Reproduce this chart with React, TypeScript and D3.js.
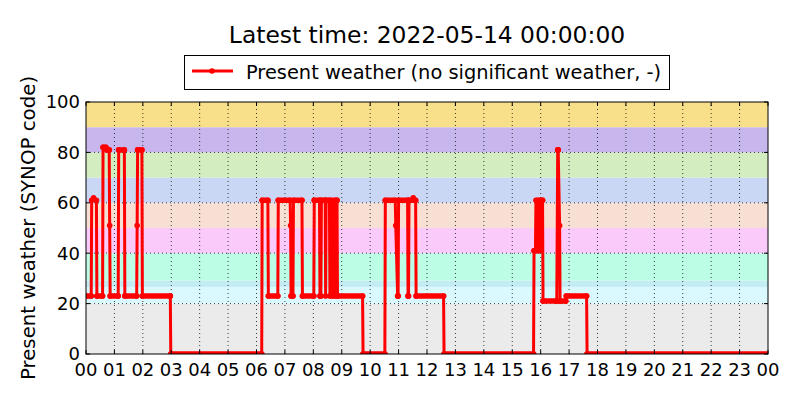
import React, { useEffect, useRef } from 'react';
import * as d3 from 'd3';

// present weather observations, [time of day, SYNOP code]
const presentWeather: [string, number][] = [
  ['00:00', 23], ['00:11', 23], ['00:12', 61], ['00:16', 62], ['00:22', 61], ['00:23', 23],
  ['00:35', 23], ['00:36', 82], ['00:42', 82], ['00:44', 81], ['00:49', 81], ['00:50', 51],
  ['00:51', 23], ['01:08', 23], ['01:09', 81], ['01:21', 81], ['01:22', 23], ['01:47', 23],
  ['01:48', 51], ['01:49', 81], ['01:58', 81], ['01:59', 23], ['02:58', 23], ['02:59', 0],
  ['06:11', 0], ['06:12', 61], ['06:24', 61], ['06:25', 23], ['06:45', 23], ['06:46', 61],
  ['07:11', 61], ['07:12', 51], ['07:13', 23], ['07:17', 23], ['07:18', 61], ['07:36', 61],
  ['07:37', 23], ['08:01', 23], ['08:02', 61], ['08:13', 61], ['08:14', 23], ['08:16', 23],
  ['08:17', 61], ['08:25', 61], ['08:26', 23], ['08:27', 61], ['08:34', 61], ['08:35', 23],
  ['08:37', 61], ['08:39', 23], ['08:41', 61], ['08:43', 23], ['08:45', 61], ['08:47', 23],
  ['08:48', 61], ['08:50', 61], ['08:51', 23], ['09:44', 23], ['09:45', 0], ['10:31', 0],
  ['10:32', 61], ['10:53', 61], ['10:54', 51], ['10:58', 23], ['10:59', 23], ['11:00', 61],
  ['11:19', 61], ['11:20', 23], ['11:21', 23], ['11:22', 61], ['11:30', 61], ['11:31', 62],
  ['11:33', 61], ['11:36', 61], ['11:37', 23], ['12:35', 23], ['12:36', 0], ['15:45', 0],
  ['15:46', 41], ['15:49', 41], ['15:50', 61], ['15:52', 41], ['15:53', 61], ['15:55', 41],
  ['15:56', 61], ['15:58', 41], ['15:59', 61], ['16:04', 61], ['16:05', 21], ['16:34', 21],
  ['16:36', 81], ['16:37', 81], ['16:40', 51], ['16:41', 21], ['16:53', 21], ['16:54', 23],
  ['17:37', 23], ['17:38', 0], ['24:00', 0],
];

// SYNOP code group shading
const bandFrom = [0, 20, 26.6, 29.2, 40, 50, 60, 70, 80, 90];
const bandTo = [20, 26.6, 29.2, 40, 50, 60, 70, 80, 90, 100];
const bandColors = ['#ebebeb', '#d9f9fe', '#c4edf3', '#bbfde5', '#facbfa', '#f8dfd4', '#c9d7f5', '#d3ecc0', '#c8b7ec', '#f8df8a'];

const hourLabels = ['00', '01', '02', '03', '04', '05', '06', '07', '08', '09', '10', '11', '12',
  '13', '14', '15', '16', '17', '18', '19', '20', '21', '22', '23', '00'];
const yTicks = [0, 20, 40, 60, 80, 100];

const title = 'Latest time: 2022-05-14 00:00:00';
const legendLabel = 'Present weather (no significant weather, -)';
const yLabel = 'Present weather (SYNOP code)';

const toMinutes = (s: string) => {
  const [h, m] = s.split(':').map(Number);
  return h * 60 + m;
};

const App: React.FC = () => {
  const svgRef = useRef<SVGSVGElement>(null);

  useEffect(() => {
    if (!svgRef.current) return;
    const width = 800;
    const height = 400;
    const margin = { top: 102, right: 32, bottom: 46, left: 86 };
    const font = 'DejaVu Sans, sans-serif';

    const svg = d3.select(svgRef.current);
    svg.selectAll('*').remove();

    svg.append('rect').attr('width', width).attr('height', height).attr('fill', '#ffffff');

    const x = d3.scaleLinear().domain([0, 1440]).range([margin.left, width - margin.right]);
    const y = d3.scaleLinear().domain([0, 100]).range([height - margin.bottom, margin.top]);
    const [x0, x1] = x.range();
    const [y0, y1] = y.range();

    svg.append('clipPath').attr('id', 'plot-clip')
      .append('rect').attr('x', x0).attr('y', y1).attr('width', x1 - x0).attr('height', y0 - y1);

    // bands
    svg.append('g').selectAll('rect')
      .data(bandColors)
      .enter().append('rect')
      .attr('x', x0)
      .attr('width', x1 - x0)
      .attr('y', (_, i) => y(bandTo[i]))
      .attr('height', (_, i) => y(bandFrom[i]) - y(bandTo[i]))
      .attr('fill', d => d);

    // grid
    const xTickVals = hourLabels.map((_, i) => i * 60);
    const grid = svg.append('g')
      .attr('stroke', '#000')
      .attr('stroke-width', 1)
      .attr('stroke-dasharray', '1,3')
      .attr('opacity', 0.75);
    grid.selectAll('.gx').data(xTickVals.slice(1, -1)).enter().append('line')
      .attr('x1', d => x(d)).attr('x2', d => x(d)).attr('y1', y0).attr('y2', y1);
    grid.selectAll('.gy').data(yTicks.slice(1, -1)).enter().append('line')
      .attr('y1', d => y(d)).attr('y2', d => y(d)).attr('x1', x0).attr('x2', x1);

    // data
    const pts = presentWeather.map(([t, v]) => ({ t: toMinutes(t), v }));
    const plot = svg.append('g').attr('clip-path', 'url(#plot-clip)');
    const line = d3.line<{ t: number; v: number }>().x(d => x(d.t)).y(d => y(d.v));

    plot.append('path')
      .attr('d', line(pts) as string)
      .attr('fill', 'none')
      .attr('stroke', '#ff0000')
      .attr('stroke-width', 3)
      .attr('stroke-linejoin', 'round');

    // dense one-minute markers along steady periods
    const holds = d3.pairs(pts).filter(([a, b]) => a.v === b.v);
    plot.selectAll('.hold').data(holds).enter().append('line')
      .attr('x1', d => x(d[0].t)).attr('x2', d => x(d[1].t))
      .attr('y1', d => y(d[0].v)).attr('y2', d => y(d[1].v))
      .attr('stroke', '#ff0000')
      .attr('stroke-width', 5.5)
      .attr('stroke-linecap', 'round');

    plot.selectAll('circle').data(pts).enter().append('circle')
      .attr('cx', d => x(d.t)).attr('cy', d => y(d.v)).attr('r', 2.8)
      .attr('fill', '#ff0000');

    // frame and ticks
    svg.append('rect')
      .attr('x', x0).attr('y', y1).attr('width', x1 - x0).attr('height', y0 - y1)
      .attr('fill', 'none').attr('stroke', '#000').attr('stroke-width', 1);

    const ticks = svg.append('g').attr('stroke', '#000').attr('stroke-width', 1);
    xTickVals.forEach(v => {
      ticks.append('line').attr('x1', x(v)).attr('x2', x(v)).attr('y1', y0).attr('y2', y0 - 4);
      ticks.append('line').attr('x1', x(v)).attr('x2', x(v)).attr('y1', y1).attr('y2', y1 + 4);
    });
    yTicks.forEach(v => {
      ticks.append('line').attr('y1', y(v)).attr('y2', y(v)).attr('x1', x0).attr('x2', x0 + 4);
      ticks.append('line').attr('y1', y(v)).attr('y2', y(v)).attr('x1', x1).attr('x2', x1 - 4);
    });

    svg.append('g').selectAll('text').data(hourLabels).enter().append('text')
      .attr('x', (_, i) => x(xTickVals[i]))
      .attr('y', y0 + 21.5)
      .attr('text-anchor', 'middle')
      .attr('font-family', font)
      .attr('font-size', 18)
      .text(d => d);

    svg.append('g').selectAll('text').data(yTicks).enter().append('text')
      .attr('x', x0 - 6)
      .attr('y', d => y(d) + 6.3)
      .attr('text-anchor', 'end')
      .attr('font-family', font)
      .attr('font-size', 18)
      .text(d => d);

    svg.append('text')
      .attr('transform', `translate(35,${(y0 + y1) / 2}) rotate(-90)`)
      .attr('text-anchor', 'middle')
      .attr('font-family', font)
      .attr('font-size', 19.8)
      .text(yLabel);

    svg.append('text')
      .attr('x', (x0 + x1) / 2)
      .attr('y', 42.5)
      .attr('text-anchor', 'middle')
      .attr('font-family', font)
      .attr('font-size', 23.4)
      .text(title);

    // legend
    const lg = svg.append('g');
    lg.append('rect').attr('x', 184.5).attr('y', 55.5).attr('width', 485).attr('height', 34)
      .attr('fill', '#fff').attr('stroke', '#000').attr('stroke-width', 1);
    lg.append('line').attr('x1', 192).attr('x2', 233).attr('y1', 71).attr('y2', 71)
      .attr('stroke', '#ff0000').attr('stroke-width', 3);
    lg.append('circle').attr('cx', 212).attr('cy', 71).attr('r', 2.8).attr('fill', '#ff0000');
    lg.append('text').attr('x', 246).attr('y', 78.5)
      .attr('font-family', font).attr('font-size', 19.4)
      .text(legendLabel);
  }, []);

  return (
    <svg
      ref={svgRef}
      width={800}
      height={400}
      style={{ position: 'absolute', left: 0, top: 0, display: 'block' }}
    />
  );
};

export default App;
